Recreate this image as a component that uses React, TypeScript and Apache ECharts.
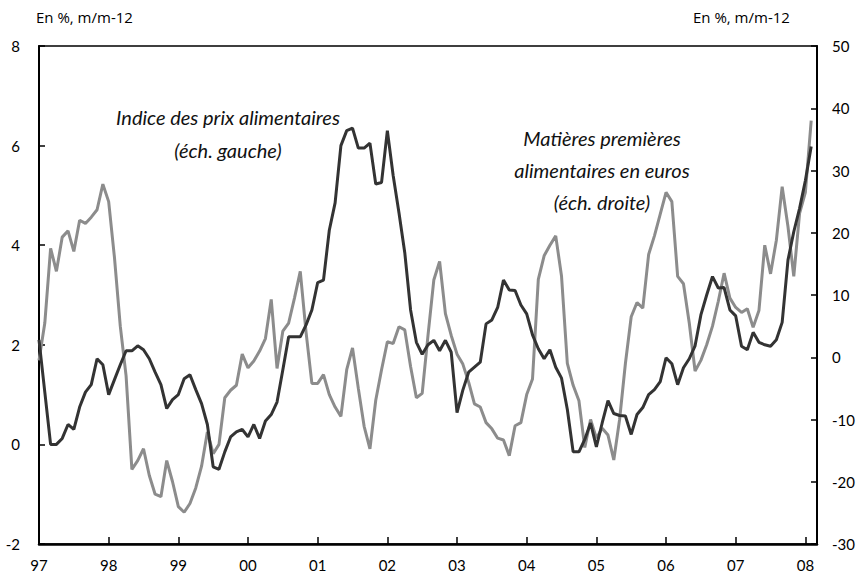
import React, { useEffect, useRef } from 'react';
import * as echarts from 'echarts';

// Monthly observations, January 1997 (index 0) to February 2008 (index 133)
const yearLabels = ['97', '98', '99', '00', '01', '02', '03', '04', '05', '06', '07', '08'];

// Indice des prix alimentaires, % m/m-12 (left scale)
const foodPriceIndex = [
  2.1, 1.05, 0.0, 0.0, 0.12, 0.4, 0.3, 0.75, 1.05, 1.2, 1.72, 1.6,
  1.0, 1.3, 1.6, 1.88, 1.88, 1.98, 1.9, 1.72, 1.45, 1.2, 0.72, 0.9,
  1.0, 1.32, 1.4, 1.1, 0.82, 0.4, -0.45, -0.5, -0.15, 0.15, 0.25, 0.3,
  0.15, 0.4, 0.12, 0.47, 0.6, 0.85, 1.5, 2.16, 2.16, 2.16, 2.4, 2.7,
  3.25, 3.3, 4.3, 4.85, 6.0, 6.3, 6.35, 5.95, 5.95, 6.05, 5.23, 5.26,
  6.3, 5.4, 4.65, 3.85, 2.7, 2.05, 1.81, 2.0, 2.09, 1.88, 2.09, 1.85,
  0.64, 1.09, 1.45, 1.55, 1.65, 2.42, 2.5, 2.75, 3.3, 3.1, 3.09, 2.8,
  2.62, 2.2, 1.92, 1.72, 1.9, 1.55, 1.33, 0.7, -0.15, -0.15, 0.1, 0.43,
  -0.05, 0.43, 0.88, 0.62, 0.58, 0.57, 0.2, 0.6, 0.74, 1.0, 1.1, 1.26,
  1.74, 1.62, 1.2, 1.54, 1.72, 1.98, 2.6, 3.0, 3.37, 3.14, 3.15, 2.7,
  2.58, 1.97, 1.9, 2.25, 2.05, 2.0, 1.97, 2.1, 2.45, 3.7, 4.27, 4.74,
  5.3, 5.98,
];

// Matières premières alimentaires en euros, % m/m-12 (right scale)
const foodCommodities = [
  -0.5, 5.5, 17.5, 13.8, 19.3, 20.3, 17, 22, 21.5, 22.5, 23.7, 27.8,
  25, 16, 5, -3, -18, -16.6, -14.7, -19, -22, -22.4, -16.6, -20,
  -24, -24.9, -23.5, -21, -17.5, -12, -15.5, -14, -6.5, -5.3, -4.5, 0.5,
  -1.7, -0.6, 1, 3, 9.3, -1.8, 4.2, 5.5, 9.5, 13.8, 4, -4.2,
  -4.2, -2.8, -6, -8, -9.5, -2, 1.5, -5, -11.1, -14.7, -6.9, -2,
  2.5, 2.2, 4.9, 4.4, -1.5, -6.5, -5.8, 3.5, 12.4, 15.4, 7, 3.5,
  0.5, -1.1, -4, -7.5, -8, -10.5, -11.5, -13, -13.3, -15.8, -11, -10.5,
  -6, -3.5, 12.5, 16.3, 18, 19.5, 13, -1, -4.5, -7, -14.5, -10,
  -13, -11.4, -12.5, -16.5, -10, -1, 6.5, 8.8, 7.9, 16.5, 19.5, 23,
  26.5, 25, 13, 11.8, 5.5, -2.2, -0.5, 2, 5, 9, 13.5, 9.5,
  8, 7.2, 7.8, 4.8, 7.5, 18, 13.4, 18.8, 27.4, 21, 13, 23.1,
  26.5, 38,
];

const LABEL_FONT = 'Lato, "Open Sans", sans-serif';
const NOTE_FONT = 'italic 20px Lato, sans-serif';

export default function App() {
  const ref = useRef<HTMLDivElement>(null);

  useEffect(() => {
    document.body.style.margin = '0';
    const chart = echarts.init(ref.current as HTMLDivElement, null, { renderer: 'svg' });

    const axisCommon = {
      axisLine: { show: true, onZero: false, lineStyle: { color: '#000', width: 2 } },
      axisTick: { show: true, inside: true, length: 6, lineStyle: { color: '#000', width: 1.5 } },
      splitLine: { show: false },
    };

    const note = (text: string, x: number, y: number) => ({
      type: 'text',
      x,
      y,
      style: { text, font: NOTE_FONT, fill: '#111', align: 'center', verticalAlign: 'middle' },
    });

    chart.setOption({
      animation: false,
      backgroundColor: '#fff',
      grid: {
        left: 39,
        right: 45,
        top: 46,
        bottom: 34,
        show: true,
        borderColor: '#000',
        borderWidth: 1.5,
        backgroundColor: 'transparent',
      },
      xAxis: {
        type: 'value',
        min: 0,
        max: 134,
        interval: 12,
        axisLine: { show: true, onZero: false, lineStyle: { color: '#000', width: 2.5 } },
        axisTick: { show: true, inside: true, length: 7, lineStyle: { color: '#000', width: 1.5 } },
        splitLine: { show: false },
        axisLabel: {
          color: '#000',
          fontSize: 15,
          fontFamily: LABEL_FONT,
          margin: 13,
          formatter: (v: number) => (v % 12 === 0 ? yearLabels[v / 12] ?? '' : ''),
        },
      },
      yAxis: [
        {
          type: 'value',
          position: 'left',
          min: -2,
          max: 8,
          interval: 2,
          ...axisCommon,
          axisLabel: { color: '#000', fontSize: 15, fontFamily: LABEL_FONT, margin: 19 },
        },
        {
          type: 'value',
          position: 'right',
          min: -30,
          max: 50,
          interval: 10,
          ...axisCommon,
          axisLabel: { color: '#000', fontSize: 15, fontFamily: LABEL_FONT, margin: 15 },
        },
      ],
      series: [
        {
          name: 'Indice des prix alimentaires',
          type: 'line',
          yAxisIndex: 0,
          showSymbol: false,
          z: 3,
          lineStyle: { color: '#333333', width: 3 },
          data: foodPriceIndex.map((v, i) => [i, v]),
        },
        {
          name: 'Matières premières alimentaires en euros',
          type: 'line',
          yAxisIndex: 1,
          showSymbol: false,
          z: 2,
          lineStyle: { color: '#8c8c8c', width: 3 },
          data: foodCommodities.map((v, i) => [i, v]),
        },
      ],
      graphic: [
        {
          type: 'text',
          left: 36,
          top: 9,
          style: { text: 'En %, m/m-12', font: '15px "Open Sans", sans-serif', fill: '#000' },
        },
        {
          type: 'text',
          left: 693,
          top: 9,
          style: { text: 'En %, m/m-12', font: '15px "Open Sans", sans-serif', fill: '#000' },
        },
        note('Indice des prix alimentaires', 228, 117),
        note('(éch. gauche)', 228, 150),
        note('Matières premières', 602, 138),
        note('alimentaires en euros', 602, 170),
        note('(éch. droite)', 602, 202),
      ],
    });

    return () => chart.dispose();
  }, []);

  return <div ref={ref} style={{ width: 862, height: 578 }} />;
}
